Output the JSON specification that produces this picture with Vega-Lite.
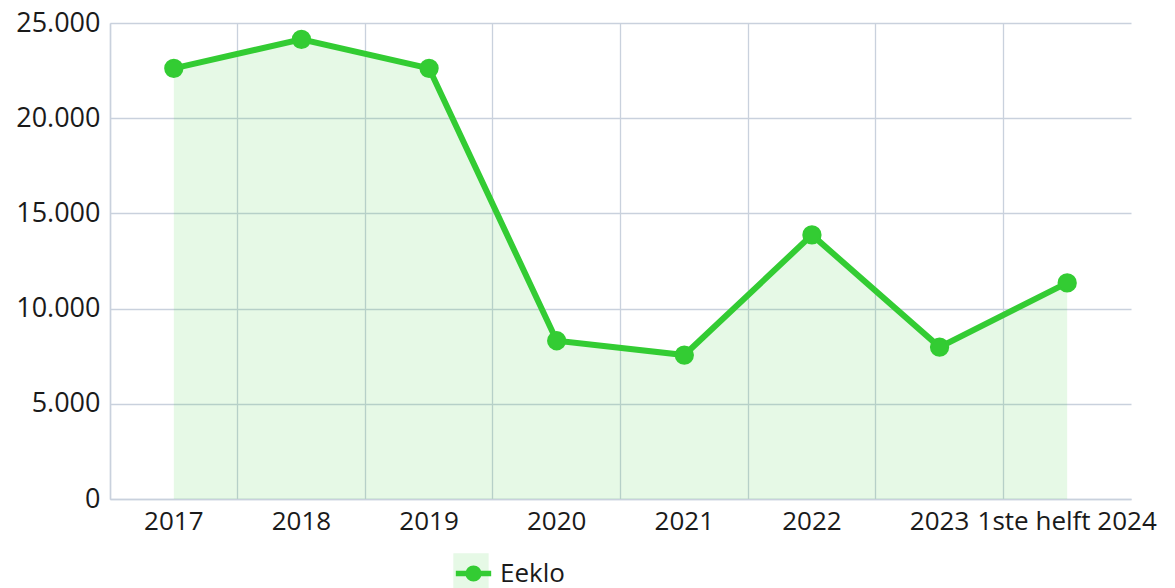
{
  "$schema": "https://vega.github.io/schema/vega-lite/v6.json",
  "width": 1021,
  "height": 476,
  "autosize": "none",
  "padding": {"left": 110, "top": 23, "right": 44, "bottom": 89},
  "background": "white",
  "config": {"view": {"stroke": null}, "font": "Open Sans"},
  "data": {"values": [
    {"periode": "2017", "gemeente": "Eeklo", "waarde": 22620},
    {"periode": "2018", "gemeente": "Eeklo", "waarde": 24140},
    {"periode": "2019", "gemeente": "Eeklo", "waarde": 22620},
    {"periode": "2020", "gemeente": "Eeklo", "waarde": 8310},
    {"periode": "2021", "gemeente": "Eeklo", "waarde": 7560},
    {"periode": "2022", "gemeente": "Eeklo", "waarde": 13870},
    {"periode": "2023", "gemeente": "Eeklo", "waarde": 7980},
    {"periode": "1ste helft 2024", "gemeente": "Eeklo", "waarde": 11350}
  ]},
  "resolve": {"axis": {"x": "independent"}},
  "encoding": {
    "y": {"field": "waarde", "type": "quantitative",
      "scale": {"domain": [0, 25000], "nice": false},
      "axis": {"values": [0, 5000, 10000, 15000, 20000, 25000], "labelExpr": "replace(format(datum.value, ',d'), ',', '.')", "ticks": false, "grid": true, "gridColor": "#c9d1dd", "gridWidth": 1.3, "domainColor": "#c9d1dd", "domainWidth": 1.5, "labelFontSize": 27, "labelColor": "#1a1a1a", "labelPadding": 10, "title": null}}
  },
  "layer": [
    {
      "mark": {"type": "area", "fillOpacity": 0.12},
      "encoding": {
        "x": {"field": "periode", "type": "nominal", "sort": null, "bandPosition": 0.5,
          "scale": {"type": "band", "paddingInner": 0, "paddingOuter": 0},
          "axis": {"orient": "bottom", "bandPosition": 0, "labels": false, "ticks": false, "grid": true, "gridColor": "#c9d1dd", "gridWidth": 1.3, "domain": true, "domainColor": "#c9d1dd", "domainWidth": 1.5, "title": null}},
        "fill": {"field": "gemeente", "type": "nominal", "scale": {"range": ["#33cc33"]},
          "legend": {"orient": "none", "legendX": 343, "legendY": 530, "title": null, "symbolType": "square", "symbolSize": 1250, "symbolOpacity": 0.12, "symbolStrokeWidth": 0, "labelFontSize": 26, "labelExpr": "''", "labelOffset": 0}}
      }
    },
    {
      "mark": {"type": "line", "strokeWidth": 6, "point": {"filled": true, "size": 300, "opacity": 1, "color": "#33cc33"}},
      "encoding": {
        "x": {"field": "periode", "type": "nominal", "sort": null, "bandPosition": 0.5,
          "axis": {"orient": "bottom", "grid": false, "ticks": false, "domain": false, "labelAngle": 0, "labelFontSize": 26, "labelColor": "#1a1a1a", "labelPadding": 9, "labelOverlap": false, "labelBound": false, "title": null}},
        "stroke": {"field": "gemeente", "type": "nominal", "scale": {"range": ["#33cc33"]},
          "legend": {"orient": "none", "legendX": 343, "legendY": 530, "title": null, "symbolType": "M-1,0L1,0M-0.3,0A0.3,0.3,0,1,1,0.3,0A0.3,0.3,0,1,1,-0.3,0Z", "symbolSize": 1250, "symbolFillColor": "#33cc33", "symbolStrokeColor": "#33cc33", "symbolStrokeWidth": 5.5, "labelFontSize": 26, "labelColor": "#1a1a1a", "labelOffset": 6}}
      }
    }
  ]
}
